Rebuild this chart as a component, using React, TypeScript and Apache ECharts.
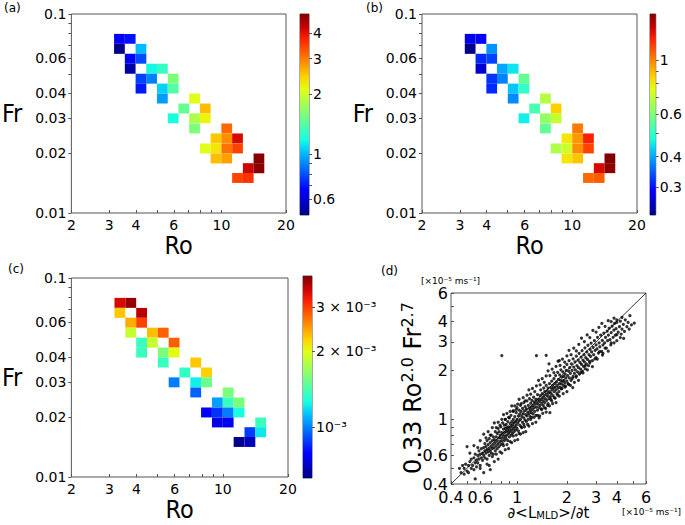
import React, { useEffect, useRef } from "react";
import * as echarts from "echarts";

// ---------- data ----------
const roBins = [3.35, 3.76, 4.22, 4.73, 5.31, 5.96, 6.68, 7.5, 8.41, 9.44, 10.59, 11.89, 13.34, 14.96];
const frBins = [0.075, 0.0668, 0.0596, 0.0531, 0.0473, 0.0422, 0.0376, 0.0335, 0.0299, 0.0266, 0.0237, 0.0211, 0.0188, 0.0168, 0.015];
const cellRoIdx = [0, 1, 0, 2, 1, 2, 1, 3, 4, 2, 3, 5, 2, 4, 5, 4, 7, 6, 8, 5, 7, 8, 7, 10, 9, 10, 11, 8, 9, 10, 11, 9, 10, 13, 12, 13, 11, 12];
const cellFrIdx = [0, 0, 1, 1, 2, 2, 3, 3, 3, 4, 4, 4, 5, 5, 5, 6, 6, 7, 7, 8, 8, 8, 9, 9, 10, 10, 10, 11, 11, 11, 11, 12, 12, 12, 13, 13, 14, 14];
const valuesA = [0.66, 0.69, 0.51, 1.02, 0.66, 0.79, 0.54, 1.17, 1.29, 0.77, 0.89, 1.58, 0.7, 1.07, 1.41, 0.95, 2.09, 1.48, 2.56, 1.2, 1.82, 2.18, 1.58, 3.15, 2.5, 2.88, 4.16, 2.09, 2.29, 3.08, 3.46, 2.56, 2.75, 4.95, 4.26, 4.9, 3.46, 3.6];
const valuesB = [0.279, 0.292, 0.234, 0.385, 0.315, 0.33, 0.263, 0.4, 0.449, 0.322, 0.371, 0.564, 0.315, 0.424, 0.503, 0.378, 0.682, 0.532, 0.857, 0.457, 0.632, 0.708, 0.564, 1.02, 0.809, 0.962, 1.23, 0.67, 0.722, 0.98, 1.14, 0.809, 0.875, 1.55, 1.33, 1.52, 1.06, 1.08];
const valuesC = [3.45e-3, 3.85e-3, 2.29e-3, 3.65e-3, 2.42e-3, 2.97e-3, 1.87e-3, 2.33e-3, 2.81e-3, 1.36e-3, 1.87e-3, 2.81e-3, 1.36e-3, 1.58e-3, 2.01e-3, 1.36e-3, 2.29e-3, 1.34e-3, 2.25e-3, 0.99e-3, 1.22e-3, 1.52e-3, 0.94e-3, 1.58e-3, 1.05e-3, 1.36e-3, 1.58e-3, 0.79e-3, 0.865e-3, 0.99e-3, 1.26e-3, 0.753e-3, 0.767e-3, 1.36e-3, 0.88e-3, 1.2e-3, 0.637e-3, 0.685e-3];
const rangeA = [0.5, 5];
const rangeB = [0.23, 1.55];
const rangeC = [0.000625, 0.004];

const roRange = [2, 20];
const frRange = [0.01, 0.1];
const roTicks = [2, 3, 4, 5, 6, 7, 8, 9, 10, 20];
const roLabels = [2, 3, 4, 6, 10, 20];
const frTicks = [0.01, 0.02, 0.03, 0.04, 0.05, 0.06, 0.07, 0.08, 0.09, 0.1];
const frLabels = [0.01, 0.02, 0.03, 0.04, 0.06, 0.1];
const cbarTicksA = [0.6, 0.7, 0.8, 0.9, 1, 2, 3, 4];
const cbarLabelsA = [0.6, 1, 2, 3, 4];
const cbarTicksB = [0.3, 0.4, 0.5, 0.6, 0.7, 0.8, 0.9, 1];
const cbarLabelsB = [0.3, 0.4, 0.6, 1];
const cbarLabelsC = [0.001, 0.002, 0.003];
const cbarTextC = ["10⁻³", "2 × 10⁻³", "3 × 10⁻³"];

const dRange = [0.4, 6];
const dTicks = [0.4, 0.5, 0.6, 0.7, 0.8, 0.9, 1, 2, 3, 4, 5, 6];
const dLabels = [0.4, 0.6, 1, 2, 3, 4, 6];
const diagLine = [0.4, 6];
const scatterCore: number[][] = [
  [0.45,0.5],[0.46,0.47],[0.47,0.52],[0.48,0.46],[0.48,0.5],[0.49,0.53],[0.5,0.48],[0.5,0.68],[0.51,0.52],[0.51,0.47],[0.52,0.55],[0.53,0.5],[0.53,0.57],[0.54,0.52],[0.55,0.49],[0.55,0.58],[0.56,0.54],[0.56,0.61],[0.57,0.51],[0.57,0.56],[0.58,0.6],[0.58,0.54],[0.59,0.64],[0.59,0.57],[0.6,0.52],[0.6,0.61],[0.61,0.58],[0.61,0.66],[0.62,0.56],[0.62,0.62],
  [0.63,0.6],[0.63,0.67],[0.64,0.58],[0.64,0.64],[0.64,0.71],[0.65,0.62],[0.65,0.68],[0.66,0.57],[0.66,0.65],[0.66,0.74],[0.67,0.63],[0.67,0.7],[0.68,0.6],[0.68,0.66],[0.68,0.76],[0.69,0.49],[0.69,0.64],[0.69,0.72],[0.7,0.62],[0.7,0.68],[0.7,0.8],[0.71,0.66],[0.71,0.74],[0.72,0.61],[0.72,0.7],[0.72,0.78],[0.73,0.67],[0.73,0.75],[0.74,0.64],[0.74,0.72],[0.74,0.84],[0.75,0.69],[0.75,0.78],[0.76,0.66],[0.76,0.74],[0.76,0.82],[0.77,0.71],[0.77,0.88],[0.78,0.68],[0.78,0.77],[0.78,0.84],[0.79,0.73],[0.79,0.8],[0.8,0.7],[0.8,0.77],[0.8,0.9],[0.81,0.74],[0.81,0.83],[0.81,2.47],[0.82,0.71],[0.82,0.8],[0.82,0.95],[0.83,0.77],[0.83,0.87],[0.84,0.74],[0.84,0.83],[0.84,0.92],[0.85,0.79],[0.85,0.88],[0.85,1.0],
  [0.86,0.76],[0.86,0.84],[0.86,0.93],[0.87,0.8],[0.87,0.89],[0.88,0.74],[0.88,0.85],[0.88,0.97],[0.89,0.82],[0.89,0.9],[0.9,0.78],[0.9,0.87],[0.9,1.02],[0.91,0.84],[0.91,0.94],[0.92,0.8],[0.92,0.9],[0.92,1.06],[0.93,0.86],[0.93,0.97],[0.94,0.82],[0.94,0.92],[0.95,0.88],[0.95,1.0],[0.95,1.12],[0.96,0.84],[0.96,0.95],[0.97,0.9],[0.97,1.04],[0.98,0.86],[0.98,0.97],[0.99,0.92],[0.99,1.1],[1.0,0.88],[1.0,1.0],[1.0,1.18],[1.01,0.95],[1.02,0.85],[1.02,1.05],[1.03,0.98],[1.03,1.14],[1.04,0.92],[1.04,1.08],[1.05,1.0],[1.05,1.22],[1.06,0.9],[1.06,1.12],[1.07,1.04],[1.08,0.96],[1.08,1.17],[1.09,1.08],[1.1,0.93],[1.1,1.02],[1.1,1.27],[1.11,1.13],[1.12,0.99],[1.12,1.2],[1.13,1.07],[1.14,0.97],[1.14,1.16],[1.15,1.05],[1.15,1.3],[1.16,1.11],[1.17,1.0],[1.17,1.22],[1.18,1.08],[1.19,1.17],[1.19,1.34],[1.2,1.04],[1.2,1.13],
  [1.21,1.26],[1.22,1.1],[1.22,1.19],[1.23,1.03],[1.23,1.31],[1.24,1.15],[1.25,1.22],[1.25,1.08],[1.26,1.37],[1.27,1.18],[1.27,1.28],[1.28,1.12],[1.29,1.24],[1.3,1.06],[1.3,1.33],[1.31,1.19],[1.31,2.47],[1.32,1.28],[1.33,1.14],[1.33,1.42],[1.34,1.24],[1.35,1.33],[1.36,1.18],[1.36,1.02],[1.37,1.29],[1.38,1.4],[1.38,1.22],[1.39,1.52],[1.4,1.33],[1.41,1.15],[1.41,1.26],[1.42,1.44],[1.43,1.36],[1.44,1.22],[1.44,1.3],[1.45,1.56],[1.46,1.4],[1.47,1.27],[1.47,1.48],[1.48,1.34],[1.49,1.17],[1.5,1.43],[1.5,1.62],[1.51,1.31],[1.52,1.5],[1.53,1.39],[1.54,1.25],[1.54,1.56],[1.55,1.45],[1.56,1.34],[1.56,2.2],[1.57,1.66],[1.58,1.48],[1.58,1.1],[1.59,1.38],[1.6,1.57],[1.61,1.44],[1.62,1.72],[1.62,1.3],[1.63,1.52],[1.64,1.62],[1.65,1.4],[1.66,1.56],[1.67,1.78],[1.68,1.48],[1.69,1.66],[1.7,1.35],[1.7,1.58],[1.71,1.86],[1.72,1.52],[1.73,1.7],[1.74,1.44],[1.75,1.62],[1.76,1.95],[1.77,1.56],[1.78,1.76],[1.79,1.48],[1.8,1.66],[1.5,2.48],[1.8,2.3],
  [1.81,1.88],[1.82,1.58],[1.83,1.74],[1.84,2.02],[1.85,1.66],[1.86,1.82],[1.87,1.55],[1.88,1.72],[1.89,1.96],[1.9,1.62],[1.91,1.84],[1.92,1.74],[1.93,2.1],[1.94,1.68],[1.95,1.9],[1.96,1.6],[1.97,1.8],[1.98,2.0],[2.0,1.72],[2.0,2.18],[2.02,1.86],[2.03,1.66],[2.05,1.98],[2.06,2.3],[2.07,1.8],[2.08,2.08],[2.1,1.92],[2.12,1.74],[2.13,2.2],[2.15,2.0],[2.17,1.57],[2.18,1.84],[2.18,2.36],[2.2,2.1],[2.22,1.92],[2.24,2.26],[2.25,2.02],[2.27,1.82],[2.28,2.45],[2.3,2.14],[2.32,1.96],[2.34,2.32],[2.35,2.08],[2.37,2.55],[2.38,1.9],[2.4,2.24],[2.42,2.04],[2.44,2.42],[2.45,2.18],[2.47,2.65],[2.48,1.98],[2.5,2.32],[2.52,2.12],[2.54,2.5],[2.55,2.26],[2.57,2.76],[2.58,2.05],[2.6,2.4],[2.62,2.2],[2.64,2.6],[2.66,2.34],[2.68,2.86],[2.7,2.14],[2.72,2.5],[2.74,2.28],[2.76,2.7],[2.78,2.44],[2.8,2.95],
  [2.82,2.6],[2.85,2.3],[2.88,2.78],[2.9,2.5],[2.93,3.05],[2.96,2.66],[3.0,2.4],[3.0,2.88],[3.04,2.72],[3.06,3.2],[3.1,2.56],[3.13,2.96],[3.16,2.8],[3.2,3.3],[3.24,2.62],[3.27,3.06],[3.3,2.88],[3.34,3.4],[3.38,2.96],[3.42,3.2],[3.46,2.75],[3.5,3.5],[3.52,3.05],[3.56,3.3],[3.6,3.64],[3.64,3.1],[3.68,2.88],[3.7,3.42],[3.75,3.75],[3.8,3.2],[3.84,3.55],[3.88,3.9],[3.92,3.3],[3.96,3.62],[4.0,3.05],[4.0,3.95],[4.08,3.45],[4.15,3.72],[4.2,4.02],[4.25,3.35],[4.3,3.6],[4.38,3.85],[4.45,3.48],[4.5,4.1],[4.6,3.72],[4.68,3.95],[4.75,3.6],[4.8,4.35],[4.9,3.82],[5.1,3.92],[4.4,3.15],[3.3,2.55]
];
const scatterLower: number[][] = [
  [0.56,0.43],[0.6,0.5],[0.63,0.47],[0.66,0.53],[0.68,0.52],[0.71,0.59],[0.73,0.55],[0.75,0.61],[0.77,0.57],[0.79,0.63],[0.81,0.62],[0.83,0.69],[0.85,0.65],[0.87,0.7],[0.89,0.66],[0.91,0.73],[0.93,0.72],[0.95,0.79],[0.97,0.74],[0.99,0.8],[1.01,0.75],[1.03,0.82],[1.05,0.81],[1.07,0.89],[1.09,0.83],[1.11,0.9],[1.13,0.84],[1.16,0.93],[1.18,0.91],[1.21,1.0],[1.24,0.94],[1.27,1.03],[1.3,0.96],[1.33,1.06],[1.37,1.05],[1.4,1.16],[1.43,1.09],[1.46,1.18],[1.5,1.11],[1.53,1.22],[1.57,1.21],[1.6,1.33],[1.64,1.25],[1.68,1.36],[1.72,1.27],[1.76,1.41],[1.8,1.39],[1.85,1.54],[1.9,1.44],[1.95,1.58],[2.0,1.48],[2.05,1.64],[2.1,1.62],[2.16,1.79],[2.22,1.69],[2.28,1.85],[2.35,1.74],[2.42,1.94],[2.5,1.93],[2.58,2.14],[2.66,2.02],[2.75,2.23],[2.85,2.11],[2.95,2.36],[3.05,2.35],[3.15,2.61],[3.28,2.49],[3.4,2.75],[3.55,2.63],[3.7,2.96],[3.85,2.96],[4.0,3.32],[4.2,3.19]
];
const scatterUpper: number[][] = [
  [0.52,0.62],[0.55,0.69],[0.58,0.67],[0.6,0.74],[0.63,0.81],[0.65,0.77],[0.67,0.84],[0.69,0.8],[0.71,0.89],[0.73,0.95],[0.75,0.89],[0.77,0.96],[0.79,0.92],[0.81,1.0],[0.83,1.07],[0.85,1.0],[0.87,1.09],[0.89,1.03],[0.91,1.12],[0.93,1.21],[0.95,1.13],[0.97,1.21],[0.99,1.15],[1.01,1.24],[1.03,1.33],[1.06,1.25],[1.09,1.36],[1.12,1.3],[1.15,1.41],[1.18,1.52],[1.21,1.43],[1.24,1.55],[1.28,1.48],[1.31,1.61],[1.35,1.74],[1.38,1.63],[1.42,1.78],[1.46,1.69],[1.5,1.85],[1.54,1.99],[1.58,1.86],[1.63,2.04],[1.67,1.94],[1.72,2.12],[1.77,2.28],[1.82,2.15],[1.88,2.35],[1.94,2.25],[2.0,2.46],[2.06,2.66],[2.12,2.5],[2.2,2.75],[2.28,2.64],[2.36,2.9],[2.45,3.16],[2.55,3.01],[2.65,3.31],[2.75,3.19],[2.87,3.53],[3.0,3.45],[3.12,3.68],[3.25,3.9],[3.4,3.74],[3.55,4.05],[3.7,4.0],[3.85,4.2],[4.0,4.1],[4.3,4.25]
];

// ---------- styles ----------
const JET = ["#000080", "#0000c8", "#0000ff", "#0040ff", "#0080ff", "#00bfff", "#15ffe2", "#48ffaf", "#7bff7b", "#afff48", "#e2ff15", "#ffd200", "#ff9700", "#ff5c00", "#ff2100", "#c80000", "#800000"];
const FONT = "'DejaVu Sans', sans-serif";
const NARROW = "'Liberation Sans Narrow', 'DejaVu Sans Condensed', 'Liberation Sans', sans-serif";
const FRAME = "#555";
const BIN_HALF = 0.025;
const lg = (v: number) => Math.log10(v);

function fmt(labels: number[], texts?: string[]) {
  return (v: number) => {
    for (let i = 0; i < labels.length; i++) {
      if (Math.abs(lg(labels[i]) - v) < 1e-6) return texts ? texts[i] : String(labels[i]);
    }
    return "";
  };
}

const gridBase = { show: true, borderColor: FRAME, borderWidth: 1, backgroundColor: "transparent" };
const grids = [
  { left: 68, top: 14, width: 218, height: 199 },
  { left: 300, top: 14, width: 9, height: 201 },
  { left: 422, top: 14, width: 215, height: 199 },
  { left: 650, top: 14, width: 9, height: 201 },
  { left: 70, top: 278, width: 218, height: 199 },
  { left: 303, top: 276, width: 9, height: 202 },
  { left: 451, top: 293, width: 195, height: 191 },
].map((g) => ({ ...gridBase, ...g }));

const noLine = { show: false, onZero: false };

function heatX(gi: number, gap: number) {
  return {
    type: "value", gridIndex: gi, min: lg(roRange[0]), max: lg(roRange[1]),
    axisLine: noLine, splitLine: { show: false },
    axisTick: { customValues: roTicks.map(lg), inside: true, length: 3, lineStyle: { color: FRAME } },
    axisLabel: { customValues: roLabels.map(lg), formatter: fmt(roLabels), fontSize: 14, lineHeight: 14, fontFamily: FONT, color: "#000", margin: 5 },
    name: "Ro", nameLocation: "middle", nameGap: gap,
    nameTextStyle: { fontSize: 25, lineHeight: 20, fontFamily: NARROW, color: "#000" },
  };
}
function heatY(gi: number) {
  return {
    type: "value", gridIndex: gi, min: lg(frRange[0]), max: lg(frRange[1]),
    axisLine: noLine, splitLine: { show: false },
    axisTick: { customValues: frTicks.map(lg), length: 3, lineStyle: { color: FRAME } },
    axisLabel: { customValues: frLabels.map(lg), formatter: fmt(frLabels), fontSize: 14, fontFamily: FONT, color: "#000", margin: 5 },
    name: "Fr", nameLocation: "middle", nameRotate: 0, nameGap: 49,
    nameTextStyle: { fontSize: 25, fontFamily: NARROW, color: "#000" },
  };
}
function cbarX(gi: number) {
  return { type: "value", gridIndex: gi, min: 0, max: 1, show: false, axisLine: noLine };
}
function cbarY(gi: number, range: number[], ticks: number[], labels: number[], texts?: string[]) {
  return {
    type: "value", gridIndex: gi, position: "right", min: lg(range[0]), max: lg(range[1]),
    axisLine: noLine, splitLine: { show: false },
    axisTick: { customValues: ticks.map(lg), length: 3, lineStyle: { color: FRAME } },
    axisLabel: { customValues: labels.map(lg), formatter: fmt(labels, texts), fontSize: 14, fontFamily: FONT, color: "#000", margin: 4 },
  };
}

function heatSeries(ai: number, values: number[]) {
  return {
    type: "custom", xAxisIndex: ai, yAxisIndex: ai, encode: { x: 0, y: 1 },
    data: values.map((v, i) => [lg(roBins[cellRoIdx[i]]), lg(frBins[cellFrIdx[i]]), lg(v)]),
    renderItem: (_p: any, api: any) => {
      const u = api.value(0), w = api.value(1);
      const a = api.coord([u - BIN_HALF, w + BIN_HALF]);
      const b = api.coord([u + BIN_HALF, w - BIN_HALF]);
      return { type: "rect", shape: { x: a[0], y: a[1], width: b[0] - a[0], height: b[1] - a[1] }, style: { fill: api.visual("color") } };
    },
  };
}
function cbarSeries(ai: number, range: number[]) {
  return {
    type: "custom", xAxisIndex: ai, yAxisIndex: ai, encode: { x: [0, 2], y: [1, 3] },
    data: [[0, lg(range[0]), 1, lg(range[1])]],
    renderItem: (_p: any, api: any) => {
      const a = api.coord([api.value(0), api.value(1)]);
      const b = api.coord([api.value(2), api.value(3)]);
      return {
        type: "rect",
        shape: { x: a[0], y: b[1], width: b[0] - a[0], height: a[1] - b[1] },
        style: { fill: new echarts.graphic.LinearGradient(0, 1, 0, 0, JET.map((c, i) => ({ offset: i / (JET.length - 1), color: c }))) },
      };
    },
  };
}
function vm(si: number, range: number[]) {
  return { type: "continuous", show: false, seriesIndex: si, dimension: 2, min: lg(range[0]), max: lg(range[1]), inRange: { color: JET } };
}

const dAxisCommon = {
  type: "value", gridIndex: 6, min: lg(dRange[0]), max: lg(dRange[1]),
  axisLine: noLine, splitLine: { show: false },
  axisTick: { customValues: dTicks.map(lg), inside: true, length: 3, lineStyle: { color: FRAME } },
  axisLabel: { customValues: dLabels.map(lg), formatter: fmt(dLabels), fontSize: 16, fontFamily: FONT, color: "#000", margin: 3 },
};

const panelLabel = (text: string, x: number, y: number) => ({
  type: "text", x, y, style: { text, fontSize: 12, fontFamily: FONT, fill: "#000" },
});

const allScatter = [...scatterCore, ...scatterLower, ...scatterUpper];

const option: any = {
  animation: false,
  backgroundColor: "#fff",
  grid: grids,
  xAxis: [heatX(0, 19), cbarX(1), heatX(2, 19), cbarX(3), heatX(4, 20), cbarX(5),
    { ...dAxisCommon, name: "∂<L{s|MLD}>/∂t", nameLocation: "middle", nameGap: 19,
      axisLabel: { ...dAxisCommon.axisLabel, margin: 5, lineHeight: 16 },
      nameTextStyle: { fontSize: 15, fontFamily: FONT, color: "#000", rich: { s: { fontSize: 10, fontFamily: FONT, verticalAlign: "bottom" } } } }],
  yAxis: [heatY(0), cbarY(1, rangeA, cbarTicksA, cbarLabelsA), heatY(2), cbarY(3, rangeB, cbarTicksB, cbarLabelsB), heatY(4),
    cbarY(5, rangeC, cbarLabelsC, cbarLabelsC, cbarTextC), { ...dAxisCommon }],
  visualMap: [vm(0, rangeA), vm(2, rangeB), vm(4, rangeC)],
  series: [
    heatSeries(0, valuesA), cbarSeries(1, rangeA),
    heatSeries(2, valuesB), cbarSeries(3, rangeB),
    heatSeries(4, valuesC), cbarSeries(5, rangeC),
    { type: "line", xAxisIndex: 6, yAxisIndex: 6, data: [[lg(diagLine[0]), lg(diagLine[0])], [lg(diagLine[1]), lg(diagLine[1])]], symbol: "none", lineStyle: { color: "#000", width: 0.8 }, z: 1 },
    { type: "scatter", xAxisIndex: 6, yAxisIndex: 6, data: allScatter.map((p) => [lg(p[0]), lg(p[1])]), symbolSize: 3.2, itemStyle: { color: "#000" }, z: 2 },
  ],
  graphic: [
    panelLabel("(a)", 4, 2),
    panelLabel("(b)", 366, 2),
    panelLabel("(c)", 8, 263),
    panelLabel("(d)", 381, 265),
    { type: "text", x: 421, y: 276, style: { text: "[×10⁻⁵ ms⁻¹]", fontSize: 9, fontFamily: FONT, fill: "#000" } },
    { type: "text", x: 622, y: 507, style: { text: "[×10⁻⁵ ms⁻¹]", fontSize: 9, fontFamily: FONT, fill: "#000" } },
    {
      type: "text", x: 413, y: 388, rotation: Math.PI / 2,
      style: {
        text: "{m|0.33 Ro}{s|2.0}{m| Fr}{s|2.7}", align: "center", verticalAlign: "middle", fill: "#000",
        rich: {
          m: { fontSize: 24, fontFamily: FONT, lineHeight: 28, verticalAlign: "middle" },
          s: { fontSize: 16, fontFamily: FONT, lineHeight: 16, verticalAlign: "top" },
        },
      },
    },
  ],
};

export default function App() {
  const ref = useRef<HTMLDivElement>(null);
  useEffect(() => {
    const chart = echarts.init(ref.current!, null, { renderer: "svg" });
    chart.setOption(option);
    return () => chart.dispose();
  }, []);
  return <div ref={ref} style={{ position: "absolute", left: 0, top: 0, width: 685, height: 525, background: "#fff" }} />;
}
